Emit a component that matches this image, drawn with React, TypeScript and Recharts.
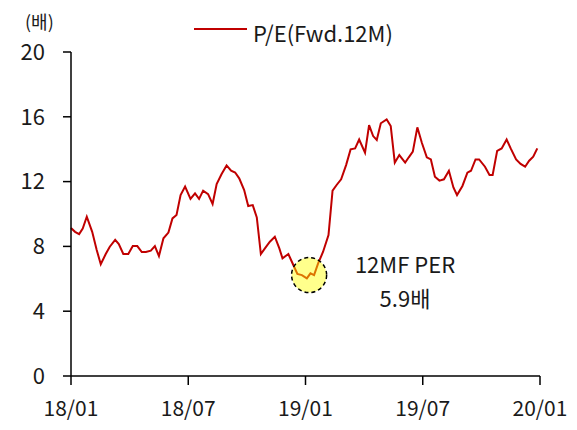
import React from 'react';
import { LineChart, Line, XAxis, YAxis, ReferenceDot } from 'recharts';

// week offsets from 2018-01 (0 = 18/01, 104 = 20/01)
const weeks = [
  0, 0.9, 1.8, 2.6, 3.5, 4.7, 5.7, 6.6, 7.7, 8.6, 9.8, 10.6, 11.6, 12.7, 13.7, 14.7, 15.7, 16.6, 17.7, 18.6,
  19.5, 20.5, 21.6, 22.5, 23.4, 24.3, 25.3, 26.5, 27.5, 28.4, 29.3, 30.4, 31.4, 32.3, 33.4, 34.5, 35.5, 36.4, 37.3, 38.4,
  39.3, 40.3, 41.2, 42.1, 43.0, 44.1, 45.2, 46.2, 46.9, 48.2, 49.3, 50.2, 51.2, 52.3, 53.1, 53.9, 54.8, 55.9, 57.1, 58.0,
  58.9, 59.9, 61.0, 62.0, 63.0, 63.9, 65.2, 66.1, 67.0, 67.8, 68.7, 70.0, 70.9, 71.8, 72.8, 74.1, 74.9, 75.8, 76.8, 77.8,
  78.9, 79.8, 80.7, 81.7, 82.7, 83.8, 84.8, 85.6, 86.8, 87.9, 88.7, 89.7, 90.5, 91.8, 92.8, 93.5, 94.5, 95.5, 96.6, 97.5,
  98.7, 99.7, 100.7, 101.6, 102.5, 103.4,
];

const peValues = [
  9.13, 8.9, 8.76, 9.1, 9.83, 8.9, 7.78, 6.9, 7.53, 7.98, 8.4, 8.15, 7.53, 7.53, 8.02, 8.02, 7.65, 7.65, 7.74, 8.02,
  7.4, 8.5, 8.85, 9.73, 9.94, 11.17, 11.69, 10.93, 11.27, 10.93, 11.44, 11.23, 10.62, 11.85, 12.47, 13.0, 12.67, 12.56, 12.2, 11.48,
  10.49, 10.55, 9.79, 7.53, 7.88, 8.29, 8.6, 7.88, 7.26, 7.53, 6.85, 6.3, 6.23, 6.03, 6.34, 6.23, 6.95, 7.67, 8.7, 11.44,
  11.79, 12.14, 13.02, 13.99, 14.05, 14.6, 13.78, 15.49, 14.81, 14.57, 15.6, 15.84, 15.43, 13.17, 13.64, 13.17, 13.5, 13.85, 15.35, 14.4,
  13.5, 13.37, 12.3, 12.06, 12.14, 12.67, 11.64, 11.17, 11.73, 12.55, 12.67, 13.37, 13.37, 12.92, 12.41, 12.41, 13.9, 14.05, 14.6, 14.05,
  13.37, 13.09, 12.92, 13.29, 13.54, 14.05,
];

const xTickWeeks = [0, 26, 52, 78, 104];
const xTickLabels = ['18/01', '18/07', '19/01', '19/07', '20/01'];
const yTicks = [0, 4, 8, 12, 16, 20];

const seriesName = 'P/E(Fwd.12M)';
const unitLabel = '(배)';
const noteLine1 = '12MF PER';
const noteLine2 = '5.9배';
const lowPoint = { week: 52.8, value: 6.23 };

const data = weeks.map((w, i) => ({ week: w, pe: peValues[i] }));

const FONT = '"Noto Sans CJK KR", "Noto Sans", sans-serif';
const TEXT = '#1a1a1a';
const RED = '#c00000';

export default function App() {
  return (
    <div style={{ position: 'absolute', left: 0, top: 0, width: 577, height: 430, background: '#fff', fontFamily: FONT }}>
      <LineChart width={577} height={430} data={data} margin={{ top: 52, right: 37, bottom: 0, left: 0 }}>
        <XAxis
          dataKey="week"
          type="number"
          domain={[0, 104]}
          ticks={xTickWeeks}
          tickFormatter={(v: number) => xTickLabels[xTickWeeks.indexOf(v)] ?? ''}
          height={54}
          tickSize={9}
          tickMargin={16}
          axisLine={{ stroke: '#000', strokeWidth: 1.5 }}
          tickLine={{ stroke: '#000', strokeWidth: 1.5 }}
          tick={{ fill: TEXT, fontSize: 21, fontFamily: FONT }}
        />
        <YAxis
          type="number"
          domain={[0, 20]}
          ticks={yTicks}
          width={71}
          tickSize={8}
          tickMargin={18}
          interval={0}
          axisLine={{ stroke: '#000', strokeWidth: 1.5 }}
          tickLine={{ stroke: '#000', strokeWidth: 1.5 }}
          tick={{ fill: TEXT, fontSize: 22, fontFamily: FONT }}
        />
        <Line
          dataKey="pe"
          name={seriesName}
          stroke={RED}
          strokeWidth={2}
          dot={false}
          isAnimationActive={false}
        />
        <ReferenceDot
          x={lowPoint.week}
          y={lowPoint.value}
          r={17.5}
          fill="#ffff00"
          fillOpacity={0.45}
          stroke="#000"
          strokeWidth={1.5}
          strokeDasharray="4 3"
          ifOverflow="visible"
        />
      </LineChart>
      <div style={{ position: 'absolute', left: 25, top: 9, fontSize: 18, color: TEXT, lineHeight: '24px' }}>{unitLabel}</div>
      <div style={{ position: 'absolute', left: 194, top: 28, width: 53, height: 2, background: RED }} />
      <div style={{ position: 'absolute', left: 253, top: 17, fontSize: 22, color: TEXT, lineHeight: '30px' }}>{seriesName}</div>
      <div style={{ position: 'absolute', left: 335, top: 248, width: 140, textAlign: 'center', fontSize: 22, color: TEXT, lineHeight: '30px' }}>
        {noteLine1}
      </div>
      <div style={{ position: 'absolute', left: 335, top: 282, width: 140, textAlign: 'center', fontSize: 22, color: TEXT, lineHeight: '30px' }}>
        {noteLine2}
      </div>
    </div>
  );
}
